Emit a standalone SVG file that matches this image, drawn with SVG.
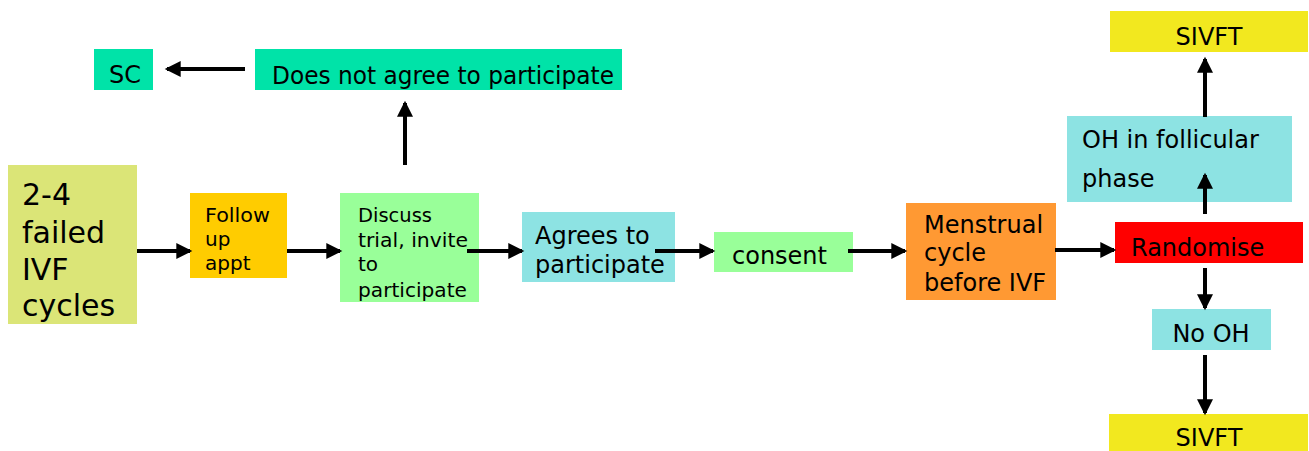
<svg xmlns="http://www.w3.org/2000/svg" width="1309" height="451" viewBox="0 0 1309 451">
<defs>
<marker id="ah" markerUnits="strokeWidth" markerWidth="4" markerHeight="4" viewBox="0 0 14 14" refX="12" refY="7" orient="auto" overflow="visible">
<path d="M0,0 L14,7 L0,14 Z" fill="#000"/>
</marker>
</defs>
<style>
text{font-family:"DejaVu Sans","Verdana",sans-serif;fill:#000}
.t30{font-size:30px}
.t24{font-size:24px}
.t20{font-size:20px}
.c line{stroke:#000;stroke-width:4;marker-end:url(#ah)}
</style>
<rect width="1309" height="451" fill="#fff"/>
<g id="failed"><rect x="8" y="165" width="129" height="159" fill="#DBE577"/>
<text class="t30" x="22" y="205">2-4</text><text class="t30" x="22" y="243">failed</text><text class="t30" x="22" y="280">IVF</text><text class="t30" x="22" y="316">cycles</text></g>
<g id="follow"><rect x="190" y="193" width="97" height="85" fill="#FFCC00"/>
<text class="t20" x="205" y="222" textLength="65" lengthAdjust="spacingAndGlyphs">Follow</text><text class="t20" x="205" y="246">up</text><text class="t20" x="205" y="270">appt</text></g>
<g id="discuss"><rect x="340" y="193" width="139" height="109" fill="#99FF99"/>
<text class="t20" x="358" y="222" textLength="74" lengthAdjust="spacingAndGlyphs">Discuss</text><text class="t20" x="358" y="247" textLength="110" lengthAdjust="spacingAndGlyphs">trial, invite</text><text class="t20" x="358" y="271">to</text><text class="t20" x="358" y="297" textLength="109" lengthAdjust="spacingAndGlyphs">participate</text></g>
<g id="agrees"><rect x="522" y="212" width="153" height="70" fill="#8DE3E3"/>
<text class="t24" x="535" y="244">Agrees to</text><text class="t24" x="535" y="273">participate</text></g>
<g id="consent"><rect x="714" y="232" width="139" height="40" fill="#99FF99"/>
<text class="t24" x="732" y="264">consent</text></g>
<g id="menstrual"><rect x="906" y="203" width="150" height="97" fill="#FF9933"/>
<text class="t24" x="924" y="233">Menstrual</text><text class="t24" x="924" y="261">cycle</text><text class="t24" x="924" y="291">before IVF</text></g>
<g id="randomise"><rect x="1115" y="222" width="188" height="41" fill="#FF0000"/>
<text class="t24" x="1131" y="256">Randomise</text></g>
<g id="ohfol"><rect x="1067" y="116" width="225" height="86" fill="#8DE3E3"/>
<text class="t24" x="1082" y="148">OH in follicular</text><text class="t24" x="1082" y="187">phase</text></g>
<g id="sivft1"><rect x="1110" y="11" width="198" height="41" fill="#F2E81F"/>
<text class="t24" x="1209" y="45" text-anchor="middle">SIVFT</text></g>
<g id="nooh"><rect x="1152" y="309" width="119" height="41" fill="#8DE3E3"/>
<text class="t24" x="1211" y="342" text-anchor="middle">No OH</text></g>
<g id="sivft2"><rect x="1109" y="414" width="199" height="41" fill="#F2E81F"/>
<text class="t24" x="1209" y="446" text-anchor="middle">SIVFT</text></g>
<g id="sc"><rect x="94" y="49" width="59" height="41" fill="#00E3A8"/>
<text class="t24" x="109" y="83">SC</text></g>
<g id="notagree"><rect x="255" y="49" width="367" height="41" fill="#00E3A8"/>
<text class="t24" x="272" y="84" textLength="342" lengthAdjust="spacingAndGlyphs">Does not agree to participate</text></g>
<g class="c" id="connectors">
<line x1="137" y1="251" x2="190" y2="251"/>
<line x1="287" y1="251" x2="340" y2="251"/>
<line x1="467" y1="251" x2="522" y2="251"/>
<line x1="655" y1="251" x2="713" y2="251"/>
<line x1="848" y1="251" x2="905" y2="251"/>
<line x1="1055" y1="250" x2="1114" y2="250"/>
<line x1="1205" y1="214" x2="1205" y2="175"/>
<line x1="1205" y1="117" x2="1205" y2="59"/>
<line x1="1205" y1="268" x2="1205" y2="308"/>
<line x1="1205" y1="355" x2="1205" y2="413"/>
<line x1="405" y1="165" x2="405" y2="103"/>
<line x1="245" y1="69" x2="167" y2="69"/>
</g>
</svg>
